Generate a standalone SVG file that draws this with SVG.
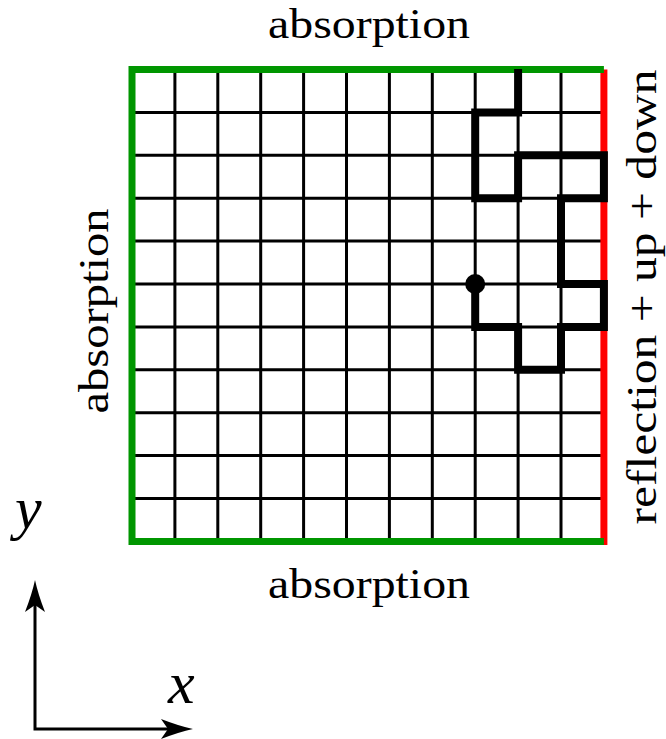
<svg xmlns="http://www.w3.org/2000/svg" width="666" height="739" viewBox="0 0 666 739">
<style>
.lbl{font-family:'Liberation Serif','Times New Roman',Tinos,Times,'Noto Serif','DejaVu Serif',FreeSerif,serif;font-size:43px;fill:#000}
.math{font-family:'Liberation Serif','Times New Roman',Tinos,Times,'Noto Serif','DejaVu Serif',FreeSerif,serif;font-style:italic;font-size:60px;fill:#000}
.grid{stroke:#000;stroke-width:3;fill:none}
.absorb{stroke:#009600;stroke-width:7;fill:none;stroke-linejoin:miter}
.reflect{stroke:#ff0000;stroke-width:7;fill:none}
.walk{stroke:#000;stroke-width:8;fill:none;stroke-linejoin:miter;stroke-linecap:square}
.axis{stroke:#000;stroke-width:3;fill:none}
</style>
<defs>
<marker id="arr" markerUnits="userSpaceOnUse" viewBox="-15 -15 40 30" markerWidth="40" markerHeight="30" refX="0" refY="0" orient="auto-start-reverse" overflow="visible">
<path d="M20,0 Q6,-3 -12,-10 L-5,0 L-12,10 Q6,3 20,0 Z" fill="#000"/>
</marker>
</defs>
<g id="grid">
<path class="grid" d="M174.9,69.5V541.4M217.8,69.5V541.4M260.7,69.5V541.4M303.6,69.5V541.4M346.5,69.5V541.4M389.4,69.5V541.4M432.3,69.5V541.4M475.2,69.5V541.4M518.1,69.5V541.4M561,69.5V541.4M132,112.4H603.9M132,155.3H603.9M132,198.2H603.9M132,241.1H603.9M132,284H603.9M132,326.9H603.9M132,369.8H603.9M132,412.7H603.9M132,455.6H603.9M132,498.5H603.9"/>
</g>
<g id="boundary-right">
<path class="reflect" d="M603.9,69.5V545"/>
</g>
<g id="boundary-absorb">
<path class="absorb" d="M603.9,69.5H132V541.4H603.9"/>
</g>
<g id="walk">
<path class="walk" d="M518.1,73V112.4H475.2V198.2H518.1V155.3H603.9V198.2H561V284H603.9V326.9H561V369.8H518.1V326.9H475.2V284"/>
<circle cx="475.2" cy="284" r="10" fill="#000"/>
</g>
<g id="labels">
<text class="lbl" x="369" y="38" text-anchor="middle" textLength="202" lengthAdjust="spacingAndGlyphs">absorption</text>
<text class="lbl" x="369" y="598" text-anchor="middle" textLength="202" lengthAdjust="spacingAndGlyphs">absorption</text>
<text class="lbl" transform="translate(108,311) rotate(-90)" x="0" y="0" text-anchor="middle" textLength="205" lengthAdjust="spacingAndGlyphs">absorption</text>
<text class="lbl" transform="translate(656,297) rotate(-90)" x="0" y="0" text-anchor="middle" textLength="455" lengthAdjust="spacingAndGlyphs">reflection + up + down</text>
</g>
<g id="axes">
<path class="axis" d="M35,600V729H173" marker-start="url(#arr)" marker-end="url(#arr)"/>
<text class="math" x="15" y="528">y</text>
<text class="math" x="168" y="703">x</text>
</g>
</svg>
